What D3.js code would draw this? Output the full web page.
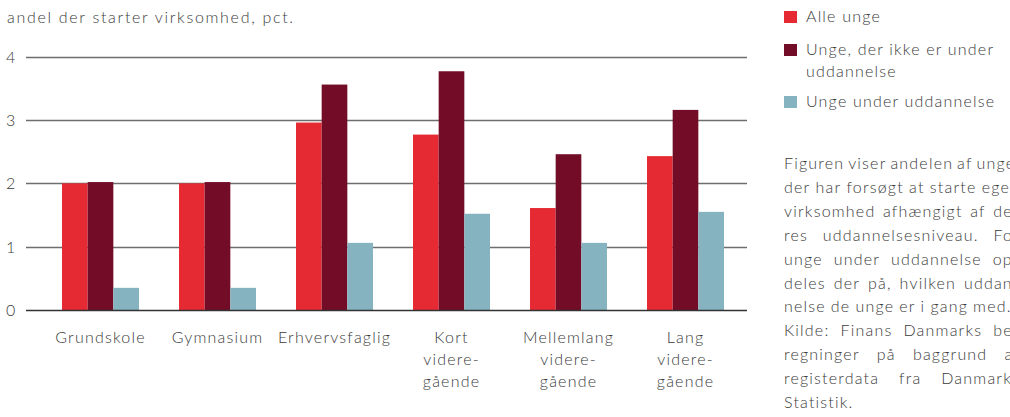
<!DOCTYPE html>
<html>
<head>
<meta charset="utf-8">
<script src="https://cdn.jsdelivr.net/npm/d3@7"></script>
<style>
  html, body { margin: 0; padding: 0; background: #fff; }
  svg { display: block; }
  text { font-family: "Lato", "Open Sans", sans-serif; font-weight: 300; fill: #3a3a3a; letter-spacing: 1.2px; }
</style>
</head>
<body>
<svg id="chart" width="1010" height="417"></svg>
<script>
// ---- data ----
const categories = [
  ["Grundskole"],
  ["Gymnasium"],
  ["Erhvervsfaglig"],
  ["Kort", "videre-", "gående"],
  ["Mellemlang", "videre-", "gående"],
  ["Lang", "videre-", "gående"]
];
const seriesNames = ["Alle unge", "Unge, der ikke er under uddannelse", "Unge under uddannelse"];
const legendLines = [["Alle unge"], ["Unge, der ikke er under", "uddannelse"], ["Unge under uddannelse"]];
const alleUnge = [2.00, 2.00, 2.96, 2.77, 1.61, 2.43];
const ikkeUnderUdd = [2.02, 2.02, 3.56, 3.77, 2.46, 3.16];
const underUdd = [0.35, 0.35, 1.06, 1.52, 1.06, 1.55];
const yTicks = [0, 1, 2, 3, 4];
const colors = ["#E52A33", "#720C27", "#85B4C0"];
const title = "andel der starter virksomhed, pct.";
const noteLines = [
  ["Figuren viser andelen af unge,", true],
  ["der har forsøgt at starte egen", true],
  ["virksomhed afhængigt af de-", true],
  ["res uddannelsesniveau. For", true],
  ["unge under uddannelse op-", true],
  ["deles der på, hvilken uddan-", true],
  ["nelse de unge er i gang med.", false],
  ["Kilde: Finans Danmarks be-", true],
  ["regninger på baggrund af", true],
  ["registerdata fra Danmarks", true],
  ["Statistik.", false]
];

// ---- layout ----
const svg = d3.select("#chart");
const series = [alleUnge, ikkeUnderUdd, underUdd];
const catKeys = categories.map(c => c.join(" "));

const y = d3.scaleLinear().domain([0, 4]).range([310, 56.7]);
const x = d3.scaleBand().domain(catKeys).range([42, 744]).paddingInner(0.342).paddingOuter(0.171);
const xs = d3.scaleBand().domain(d3.range(series.length)).range([0, x.bandwidth()]);

// title
svg.append("text").attr("x", 7).attr("y", 23).style("font-size", "16px")
  .style("letter-spacing", "1.7px").text(title);

// gridlines
const gridX0 = 26, gridX1 = 747;
svg.append("g").selectAll("line").data(yTicks.filter(d => d > 0)).join("line")
  .attr("x1", gridX0).attr("x2", gridX1)
  .attr("y1", d => Math.round(y(d)) + 0.5).attr("y2", d => Math.round(y(d)) + 0.5)
  .attr("stroke", "#6e6e6e").attr("stroke-width", 1.3);

// y tick labels
svg.append("g").selectAll("text").data(yTicks).join("text")
  .attr("x", 6).attr("y", d => y(d) + 6)
  .style("font-size", "16px").text(d => d);

// bars
const groups = svg.append("g").selectAll("g").data(catKeys).join("g")
  .attr("transform", d => `translate(${x(d)},0)`);
groups.selectAll("rect").data((d, i) => series.map((s, j) => ({ j, v: s[i] }))).join("rect")
  .attr("x", d => xs(d.j)).attr("width", xs.bandwidth())
  .attr("y", d => y(d.v)).attr("height", d => y(0) - y(d.v))
  .attr("fill", d => colors[d.j]);

// baseline
svg.append("line").attr("x1", gridX0).attr("x2", gridX1)
  .attr("y1", y(0) + 0.5).attr("y2", y(0) + 0.5)
  .attr("stroke", "#333").attr("stroke-width", 1.5);

// x labels
const xl = svg.append("g").selectAll("text").data(categories).join("text")
  .attr("text-anchor", "middle").style("font-size", "16px")
  .attr("transform", (d, i) => `translate(${x(catKeys[i]) + x.bandwidth() / 2},343)`);
xl.selectAll("tspan").data(d => d).join("tspan")
  .attr("x", 0).attr("y", (d, i) => i * 22).text(d => d);

// legend
const leg = svg.append("g");
const legY = [11, 44, 96];
legendLines.forEach((lines, i) => {
  leg.append("rect").attr("x", 784).attr("y", legY[i]).attr("width", 13).attr("height", 12).attr("fill", colors[i]);
  lines.forEach((t, k) => {
    leg.append("text").attr("x", 806).attr("y", legY[i] + 11 + k * 22).style("font-size", "16px").text(t);
  });
});

// notes (justified)
const noteX = 784, noteW = 236, noteY0 = 169, noteLH = 23.9;
const notes = svg.append("g");
noteLines.forEach(([line, justify], k) => {
  const words = line.split(" ");
  const yy = noteY0 + k * noteLH;
  const temp = words.map(w => notes.append("text").attr("y", yy).style("font-size", "16px").text(w));
  const widths = temp.map(t => t.node().getComputedTextLength());
  const spaceW = 5;
  const total = d3.sum(widths);
  const gap = (justify && words.length > 1) ? Math.max(3, (noteW - total) / (words.length - 1)) : spaceW;
  let cx = noteX;
  temp.forEach((t, i) => { t.attr("x", cx); cx += widths[i] + gap; });
});
</script>
</body>
</html>
